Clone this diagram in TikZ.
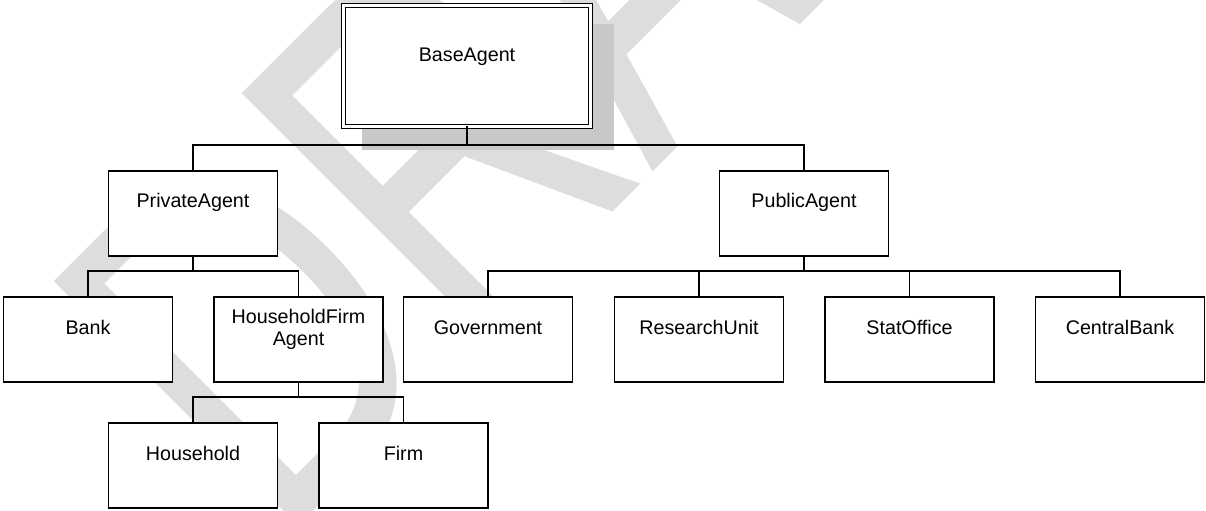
\documentclass[tikz,border=0pt]{standalone}
\usepackage{fontspec}
\setmainfont{Liberation Sans}
\usetikzlibrary{calc}
\definecolor{wmgray}{RGB}{221,221,221}
\definecolor{shadowgray}{RGB}{200,200,200}
\begin{document}
\begin{tikzpicture}[x=0.5pt,y=-0.5pt,
  box/.style={draw=black, fill=white, line width=0.8pt, minimum width=84.5pt, minimum height=42.5pt, inner sep=0pt, outer sep=0pt},
  lbl/.style={font=\fontsize{9.85}{11}\selectfont, inner sep=0pt, anchor=base, align=center},
  conn/.style={draw=black, line width=0.8pt},
]
\useasboundingbox (0,0) rectangle (1206,510);
% watermark
\node[font=\fontsize{183.5}{183.5}\selectfont, text=wmgray, inner sep=0pt, anchor=base west, rotate=45, yscale=1.37, transform shape] (wm) at (277.7,547.3) {DRAFT};
% shadow of the root box
\fill[shadowgray] (362,24) rectangle (614,150);
% root
\node[box, line width=0.7pt, double=white, double distance=1.3pt, minimum width=123.3pt, minimum height=60.3pt] (base) at (467,66) {};
\node[lbl] (baseT) at ($(base.north)+(0,55.3)$) {BaseAgent};
% level 1
\node[box] (private) at (193,213.5) {};
\node[box] (public) at (804,213.5) {};
\node[lbl] (privateT) at ($(private.north)+(0,36.5)$) {PrivateAgent};
\node[lbl] (publicT) at ($(public.north)+(0,36.5)$) {PublicAgent};
% level 2
\node[box] (bank) at (88,339.5) {};
\node[box] (hfa) at (298.5,339.5) {};
\node[box] (gov) at (488,339.5) {};
\node[box] (research) at (699,339.5) {};
\node[box] (stat) at (909.5,339.5) {};
\node[box] (central) at (1120,339.5) {};
\node[lbl] (bankT) at ($(bank.north)+(0,37)$) {Bank};
\node[lbl, anchor=north] (hfaT) at ($(hfa.north)+(0,12)$) {HouseholdFirm\\Agent};
\node[lbl] (govT) at ($(gov.north)+(0,37)$) {Government};
\node[lbl] (researchT) at ($(research.north)+(0,37)$) {ResearchUnit};
\node[lbl] (statT) at ($(stat.north)+(0,37)$) {StatOffice};
\node[lbl] (centralT) at ($(central.north)+(0,37)$) {CentralBank};
% level 3
\node[box] (household) at (193,465.5) {};
\node[box] (firm) at (403.5,465.5) {};
\node[lbl] (householdT) at ($(household.north)+(0,37.5)$) {Household};
\node[lbl] (firmT) at ($(firm.north)+(0,37.5)$) {Firm};
% buses
\coordinate (busA) at (0,145);
\coordinate (busB) at (0,271);
\coordinate (busC) at (0,397);
\draw[conn] (base.south) -- (base.south |- busA);
\draw[conn] (private.north) -- (private.north |- busA) -- (public.north |- busA) -- (public.north);
\draw[conn] (private.south) -- (private.south |- busB);
\draw[conn] (bank.north) -- (bank.north |- busB) -- (hfa.north |- busB) -- (hfa.north);
\draw[conn] (public.south) -- (public.south |- busB);
\draw[conn] (gov.north) -- (gov.north |- busB) -- (central.north |- busB) -- (central.north);
\draw[conn] (research.north) -- (research.north |- busB);
\draw[conn] (stat.north) -- (stat.north |- busB);
\draw[conn] (hfa.south) -- (hfa.south |- busC);
\draw[conn] (household.north) -- (household.north |- busC) -- (firm.north |- busC) -- (firm.north);
\end{tikzpicture}
\end{document}
